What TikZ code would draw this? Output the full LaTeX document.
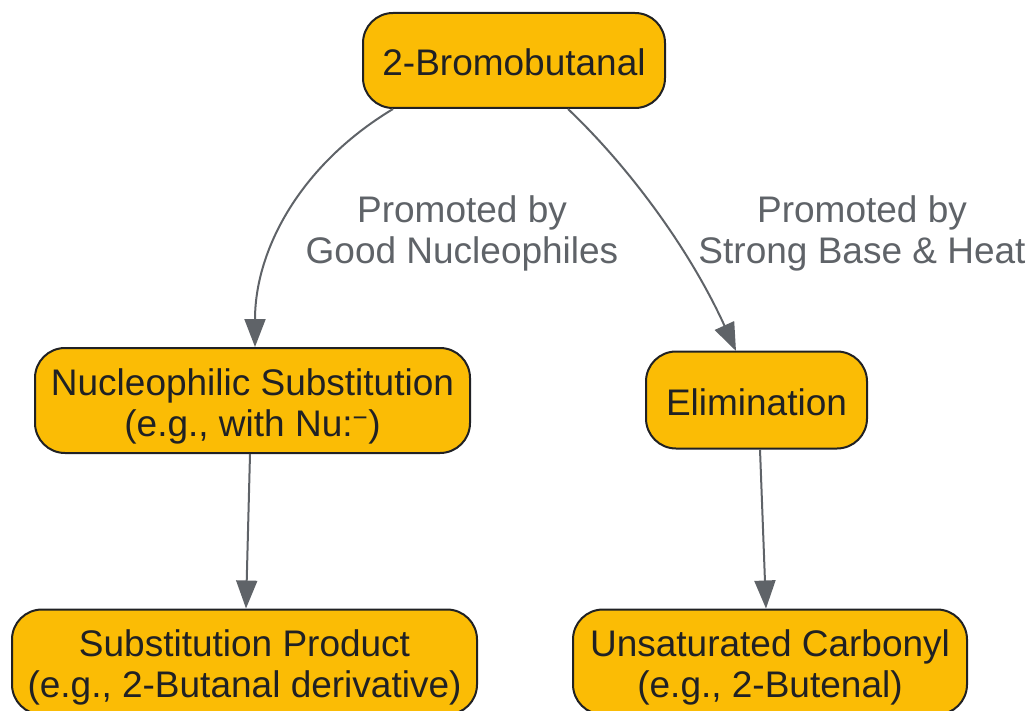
\documentclass[tikz,border=0pt]{standalone}
\usepackage{fontspec}
\setmainfont{Liberation Sans}
\usetikzlibrary{arrows.meta}
\definecolor{boxfill}{HTML}{FBBC05}
\definecolor{boxline}{HTML}{202124}
\definecolor{edgecol}{HTML}{5F6368}
\tikzset{
  box/.style={draw=boxline, line width=2pt, fill=boxfill, rounded corners=30pt,
    align=center, inner sep=0pt, text=boxline,
    font=\fontsize{37}{41}\selectfont},
  onebox/.style={box, text height=31pt, text depth=0pt},
  twobox/.style={box, text height=76pt, text depth=5pt},
  conn/.style={draw=edgecol, line width=2pt, -{Triangle[length=28pt,width=21pt]}},
  lbl/.style={align=center, text=edgecol, inner sep=0pt, font=\fontsize{37}{41}\selectfont}
}
\begin{document}
\begin{tikzpicture}[x=1pt,y=-1pt]
\useasboundingbox (0,0) rectangle (1033,711);
\node[onebox, minimum width=302pt, minimum height=95pt] (top) at (514,60.5) {2-Bromobutanal};
\node[twobox, minimum width=435pt, minimum height=105pt] (ns) at (252.5,400.5) {Nucleophilic Substitution\\(e.g., with Nu:\textsuperscript{\char"2212})};
\node[onebox, minimum width=221pt, minimum height=97pt] (el) at (756.5,400) {Elimination};
\node[twobox, minimum width=465pt, minimum height=105pt] (sp) at (244.5,662) {Substitution Product\\(e.g., 2-Butanal derivative)};
\node[twobox, minimum width=394pt, minimum height=105pt] (uc) at (770,662) {Unsaturated Carbonyl\\(e.g., 2-Butenal)};
\coordinate (a1) at (393,109);
\coordinate (a2) at (568,109);
\draw[conn] (a1) .. controls (300,165) and (255,250) .. (255,347);
\draw[conn] (a2) .. controls (630,168) and (690,250) .. (736,351);
\draw[conn] (ns.south -| 250,0) -- (sp.north -| 246,0);
\draw[conn] (el.south -| 760,0) -- (uc.north -| 766,0);
\node[lbl] (l1) at (462,233) {Promoted by\\Good Nucleophiles};
\node[lbl] (l2) at (862,233) {Promoted by\\Strong Base \& Heat};
\end{tikzpicture}
\end{document}
